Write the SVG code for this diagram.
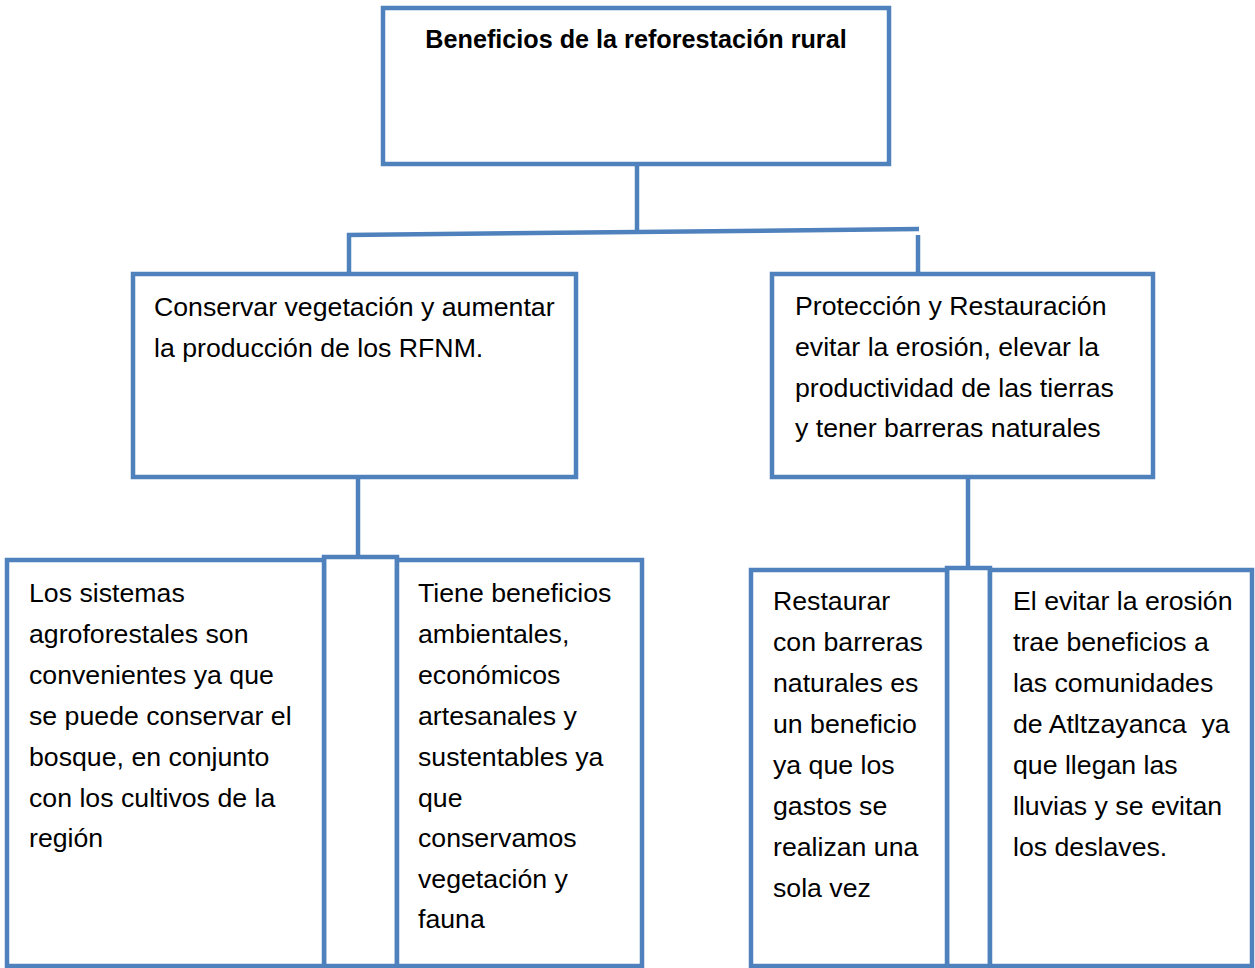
<svg xmlns="http://www.w3.org/2000/svg" width="1255" height="968" viewBox="0 0 1255 968">
<style>
.box{fill:#ffffff;stroke:#4f81bd;stroke-width:4.5;stroke-linejoin:miter}
.ln{fill:none;stroke:#4f81bd;stroke-width:4.5}
.t{font-family:"Liberation Sans",Arial,sans-serif;font-size:26.7px;fill:#000000;white-space:pre}
.tt{font-family:"Liberation Sans",Arial,sans-serif;font-size:25.2px;font-weight:bold;fill:#000000}
</style>
<rect x="0" y="0" width="1255" height="968" fill="#ffffff"/>
<g id="connectors">
<line class="ln" x1="637" y1="164" x2="637" y2="232"/>
<line class="ln" x1="347" y1="235" x2="919" y2="229"/>
<line class="ln" x1="349" y1="233" x2="349" y2="273"/>
<line class="ln" x1="918" y1="235" x2="918" y2="273"/>
<line class="ln" x1="358" y1="477" x2="358" y2="562"/>
<line class="ln" x1="968" y1="477" x2="968" y2="568"/>
</g>
<g id="root">
<rect class="box" x="383" y="8" width="506" height="156"/>
<text class="tt" x="636" y="48" text-anchor="middle">Beneficios de la reforestación rural</text>
</g>
<g id="conservar">
<rect class="box" x="133" y="274" width="443" height="203"/>
<text class="t" x="154" y="316">Conservar vegetación y aumentar</text>
<text class="t" x="154" y="357">la producción de los RFNM.</text>
</g>
<g id="proteccion">
<rect class="box" x="772" y="274" width="381" height="203"/>
<text class="t" x="795" y="315">Protección y Restauración</text>
<text class="t" x="795" y="356">evitar la erosión, elevar la</text>
<text class="t" x="795" y="397">productividad de las tierras</text>
<text class="t" x="795" y="437">y tener barreras naturales</text>
</g>
<g id="spacer-left">
<rect class="box" x="324" y="557" width="73" height="409"/>
</g>
<g id="sistemas">
<rect class="box" x="7" y="560" width="317" height="406"/>
<text class="t" x="29" y="602">Los sistemas</text>
<text class="t" x="29" y="643">agroforestales son</text>
<text class="t" x="29" y="684">convenientes ya que</text>
<text class="t" x="29" y="725">se puede conservar el</text>
<text class="t" x="29" y="766">bosque, en conjunto</text>
<text class="t" x="29" y="807">con los cultivos de la</text>
<text class="t" x="29" y="847">región</text>
</g>
<g id="tiene">
<rect class="box" x="397" y="560" width="245" height="406"/>
<text class="t" x="418" y="602">Tiene beneficios</text>
<text class="t" x="418" y="643">ambientales,</text>
<text class="t" x="418" y="684">económicos</text>
<text class="t" x="418" y="725">artesanales y</text>
<text class="t" x="418" y="766">sustentables ya</text>
<text class="t" x="418" y="807">que</text>
<text class="t" x="418" y="847">conservamos</text>
<text class="t" x="418" y="888">vegetación y</text>
<text class="t" x="418" y="928">fauna</text>
</g>
<g id="spacer-right">
<rect class="box" x="947" y="568" width="43" height="398"/>
</g>
<g id="restaurar">
<rect class="box" x="751" y="570" width="196" height="396"/>
<text class="t" x="773" y="610">Restaurar</text>
<text class="t" x="773" y="651">con barreras</text>
<text class="t" x="773" y="692">naturales es</text>
<text class="t" x="773" y="733">un beneficio</text>
<text class="t" x="773" y="774">ya que los</text>
<text class="t" x="773" y="815">gastos se</text>
<text class="t" x="773" y="856">realizan una</text>
<text class="t" x="773" y="897">sola vez</text>
</g>
<g id="evitar">
<rect class="box" x="990" y="570" width="262" height="396"/>
<text class="t" x="1013" y="610">El evitar la erosión</text>
<text class="t" x="1013" y="651">trae beneficios a</text>
<text class="t" x="1013" y="692">las comunidades</text>
<text class="t" x="1013" y="733">de Atltzayanca  ya</text>
<text class="t" x="1013" y="774">que llegan las</text>
<text class="t" x="1013" y="815">lluvias y se evitan</text>
<text class="t" x="1013" y="856">los deslaves.</text>
</g>
</svg>
